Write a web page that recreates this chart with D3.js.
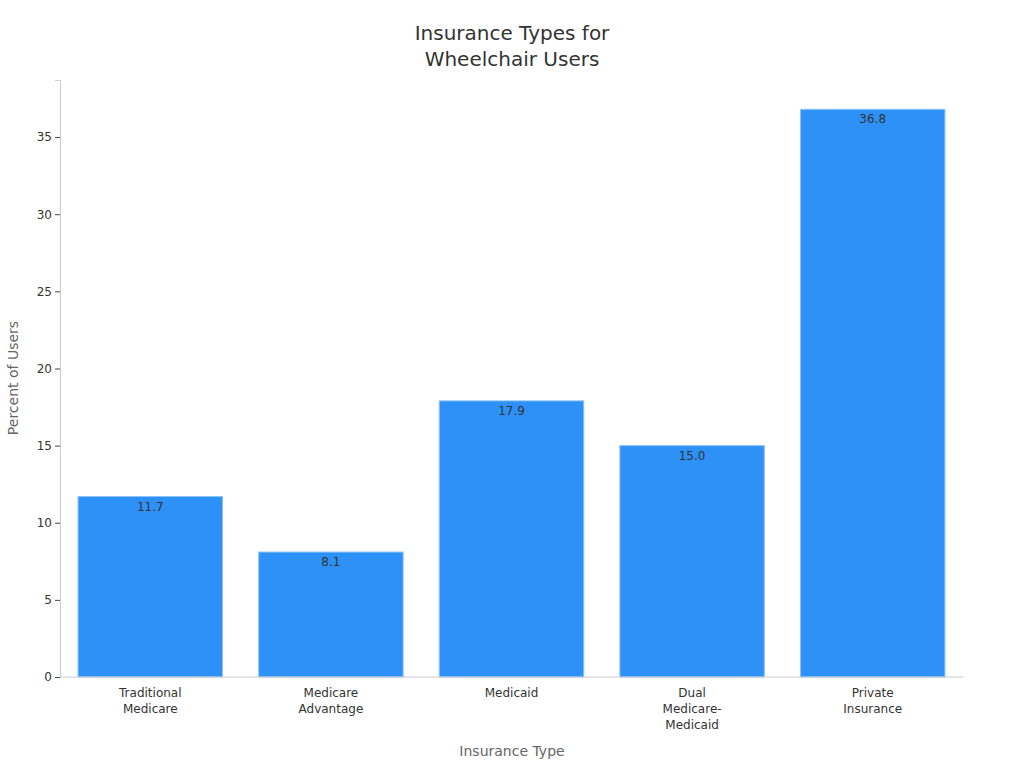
<!DOCTYPE html>
<html><head><meta charset="utf-8">
<script src="https://cdn.jsdelivr.net/npm/d3@7"></script>
<style>body{margin:0;background:#fff}text{font-family:"DejaVu Sans",sans-serif}</style>
</head><body><svg id="c" width="1024" height="768"></svg>
<script>
const categories=[["Traditional","Medicare"],["Medicare","Advantage"],["Medicaid"],["Dual","Medicare-","Medicaid"],["Private","Insurance"]];
const values=[11.7,8.1,17.9,15.0,36.8];
const yTicks=[0,5,10,15,20,25,30,35];
const svg=d3.select("#c");
const L=60,R=963,T=80,B=677;
const x=d3.scaleBand().domain(d3.range(values.length)).range([L,R]).paddingInner(0.2).paddingOuter(0.1);
const y=d3.scaleLinear().domain([0,38.7]).range([B,T]);
svg.append("text").attr("x",512).attr("y",40).attr("text-anchor","middle").attr("font-size",20).attr("fill","#333").text("Insurance Types for");
svg.append("text").attr("x",512).attr("y",66).attr("text-anchor","middle").attr("font-size",20).attr("fill","#333").text("Wheelchair Users");
svg.selectAll("rect.b").data(values).join("rect").attr("class","b")
 .attr("x",(d,i)=>x(i)).attr("width",x.bandwidth()).attr("y",d=>y(d)).attr("height",d=>B-y(d))
 .attr("fill","#2e91f7").attr("stroke","#8cc3fa").attr("stroke-width",1);
svg.selectAll("text.v").data(values).join("text").attr("class","v")
 .attr("x",(d,i)=>x(i)+x.bandwidth()/2).attr("y",d=>y(d)+14).attr("text-anchor","middle")
 .attr("font-size",12).attr("fill","#333").text(d=>d.toFixed(1));
const ya=svg.append("g").attr("transform",`translate(${L},0)`).call(d3.axisLeft(y).tickValues(yTicks).tickSize(5));
ya.select(".domain").attr("stroke","#ccc");
ya.selectAll("line").attr("stroke","#444");
ya.selectAll("text").attr("font-size",12).attr("fill","#333").style("font-family","DejaVu Sans");
svg.append("line").attr("x1",L).attr("x2",R).attr("y1",B).attr("y2",B).attr("stroke","#ccc");
categories.forEach((lines,i)=>{
 const t=svg.append("text").attr("x",x(i)+x.bandwidth()/2).attr("y",697).attr("text-anchor","middle").attr("font-size",12).attr("fill","#333");
 lines.forEach((s,j)=>t.append("tspan").attr("x",x(i)+x.bandwidth()/2).attr("dy",j?16:0).text(s));
});
svg.append("text").attr("x",512).attr("y",756).attr("text-anchor","middle").attr("font-size",14).attr("fill","#666").text("Insurance Type");
svg.append("text").attr("transform","translate(18,378) rotate(-90)").attr("text-anchor","middle").attr("font-size",14).attr("fill","#666").text("Percent of Users");
</script></body></html>
